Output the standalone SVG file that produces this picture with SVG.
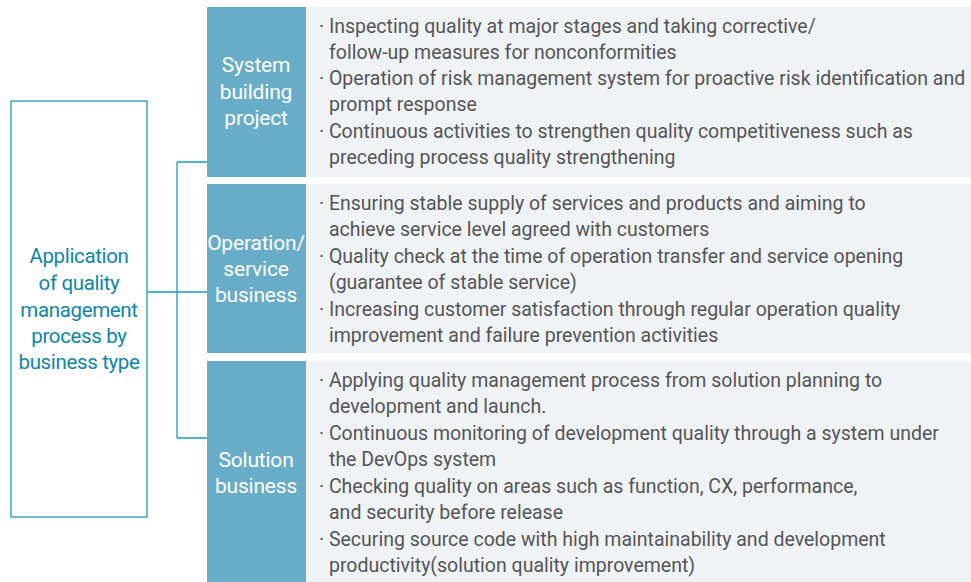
<svg xmlns="http://www.w3.org/2000/svg" width="971" height="582" viewBox="0 0 971 582">
<style>
.lab{fill:#68acc8}
.pan{fill:#f0f3f6}
.lt{font-family:Roboto,"Liberation Sans",sans-serif;font-size:21px;fill:#ffffff;text-anchor:middle;letter-spacing:-0.2px}
.mt{font-family:Roboto,"Liberation Sans",sans-serif;font-size:20.5px;fill:#0e86a6;text-anchor:middle;letter-spacing:-0.35px}
.bt{font-family:Roboto,"Liberation Sans",sans-serif;font-size:19.5px;fill:#555555;letter-spacing:0px}
.cn{fill:none;stroke:#1b9bbd;stroke-width:1.3}
</style>
<g id="connectors">
<path class="cn" d="M147 292 H207 M177 162 V438 M177 162 H207 M177 438 H207"/>
</g>
<g id="root">
<rect x="11" y="101" width="136" height="416" fill="#ffffff" stroke="#1b9bbd" stroke-width="1.3"/>
<text class="mt" x="79" y="263">Application</text>
<text class="mt" x="79" y="290">of quality</text>
<text class="mt" x="79" y="317">management</text>
<text class="mt" x="79" y="343">process by</text>
<text class="mt" x="79" y="369">business type</text>
</g>
<g id="system-building">
<rect class="lab" x="207" y="7" width="99" height="170"/>
<rect class="pan" x="306" y="7" width="665" height="170"/>
<text class="lt" x="256" y="72">System</text>
<text class="lt" x="256" y="99">building</text>
<text class="lt" x="256" y="125">project</text>
<text class="bt" x="319" y="33">· Inspecting quality at major stages and taking corrective/</text>
<text class="bt" x="329" y="59">follow-up measures for nonconformities</text>
<text class="bt" x="319" y="85">· Operation of risk management system for proactive risk identification and</text>
<text class="bt" x="329" y="111">prompt response</text>
<text class="bt" x="319" y="138">· Continuous activities to strengthen quality competitiveness such as</text>
<text class="bt" x="329" y="164">preceding process quality strengthening</text>
</g>
<g id="operation-service">
<rect class="lab" x="207" y="184" width="99" height="169"/>
<rect class="pan" x="306" y="184" width="665" height="169"/>
<text class="lt" x="256" y="250">Operation/</text>
<text class="lt" x="256" y="276">service</text>
<text class="lt" x="256" y="302">business</text>
<text class="bt" x="319" y="210">· Ensuring stable supply of services and products and aiming to</text>
<text class="bt" x="329" y="236">achieve service level agreed with customers</text>
<text class="bt" x="319" y="263">· Quality check at the time of operation transfer and service opening</text>
<text class="bt" x="329" y="289">(guarantee of stable service)</text>
<text class="bt" x="319" y="316">· Increasing customer satisfaction through regular operation quality</text>
<text class="bt" x="329" y="342">improvement and failure prevention activities</text>
</g>
<g id="solution">
<rect class="lab" x="207" y="361" width="99" height="221"/>
<rect class="pan" x="306" y="361" width="665" height="221"/>
<text class="lt" x="256" y="467">Solution</text>
<text class="lt" x="256" y="493">business</text>
<text class="bt" x="319" y="387">· Applying quality management process from solution planning to</text>
<text class="bt" x="329" y="413">development and launch.</text>
<text class="bt" x="319" y="440">· Continuous monitoring of development quality through a system under</text>
<text class="bt" x="329" y="466">the DevOps system</text>
<text class="bt" x="319" y="493">· Checking quality on areas such as function, CX, performance,</text>
<text class="bt" x="329" y="519">and security before release</text>
<text class="bt" x="319" y="546">· Securing source code with high maintainability and development</text>
<text class="bt" x="329" y="572">productivity(solution quality improvement)</text>
</g>
</svg>
